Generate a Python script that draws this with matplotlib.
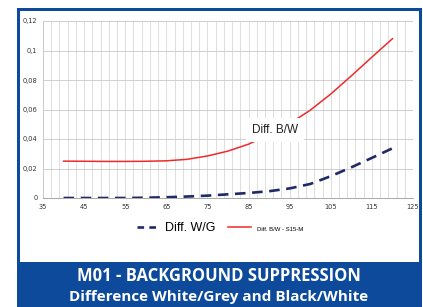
import numpy as np
import matplotlib.pyplot as plt
from matplotlib.patches import Rectangle
from matplotlib.lines import Line2D

# distance (mm) and signal differences
x_wg = [40, 45, 50, 55, 60, 65, 70, 75, 80, 85, 90, 95, 100, 105, 110, 115, 120]
diff_wg = [0.0, 0.0, 0.0, 0.0, 0.0002, 0.0005, 0.001, 0.0016, 0.0025, 0.0034, 0.0046, 0.0065,
           0.0095, 0.0148, 0.0208, 0.0272, 0.0337]

x_bw = [40, 45, 50, 55, 60, 65, 70, 75, 80, 85, 90, 95, 100, 105, 110, 115, 120]
diff_bw = [0.025, 0.0249, 0.0248, 0.0248, 0.0249, 0.0252, 0.0262, 0.0285, 0.0318, 0.0365, 0.043,
           0.0505, 0.0595, 0.0705, 0.0828, 0.0955, 0.108]

xticks = [35, 45, 55, 65, 75, 85, 95, 105, 115, 125]
yticks = [0, 0.02, 0.04, 0.06, 0.08, 0.1, 0.12]
ytick_labels = ["0", "0,02", "0,04", "0,06", "0,08", "0,1", "0,12"]

blue = "#0d4a9b"
navy = "#1f2a66"
red = "#ee2a2a"

W, H = 423, 307
fig = plt.figure(figsize=(W / 100, H / 100), dpi=100)

def px_rect(x0, y0, x1, y1, color, z):
    # rectangle in pixel coords, y measured from top
    fig.patches.append(Rectangle((x0 / W, 1 - y1 / H), (x1 - x0) / W, (y1 - y0) / H,
                                 transform=fig.transFigure, facecolor=color,
                                 edgecolor="none", zorder=z))

px_rect(17, 8, 422, 307, blue, -3)
px_rect(20, 11, 419, 262, "white", -2)

ax = fig.add_axes([43 / W, 1 - 198 / H, (413 - 43) / W, (198 - 21) / H])
ax.set_facecolor("white")
ax.set_xlim(35, 125)
ax.set_ylim(0, 0.12)
ax.set_xticks(xticks)
ax.set_yticks(yticks)
ax.set_yticklabels(ytick_labels)
ax.set_xticks(np.arange(35, 126, 2), minor=True)
ax.tick_params(axis="both", which="both", length=0, labelsize=4.8, colors="#333333", pad=4)
ax.grid(True, which="both", axis="x", color="#d9d9d9", linewidth=0.6)
ax.grid(True, which="major", axis="y", color="#c8c8c8", linewidth=0.6)
for s in ["top", "right"]:
    ax.spines[s].set_visible(False)
ax.spines["left"].set_color("#c8c8c8")
ax.spines["bottom"].set_color("#9a9a9a")
ax.spines["left"].set_linewidth(0.6)
ax.spines["bottom"].set_linewidth(0.6)

ax.plot(x_bw, diff_bw, color=red, linewidth=1.1, zorder=3)
ax.plot(x_wg, diff_wg, color=navy, linewidth=1.9, dashes=(4, 2.5), zorder=3)

ax.text(91.4, 0.0461, "Diff. B/W", fontsize=8.5, color="#222222", ha="center", va="center",
        family="Liberation Sans", zorder=4,
        bbox=dict(facecolor="white", edgecolor="none", pad=4.5))

handles = [Line2D([], [], color=navy, linewidth=1.9, dashes=(2.5, 2)),
           Line2D([], [], color=red, linewidth=1.1)]
leg = fig.legend(handles, ["Diff. W/G", "Diff. B/W - S15-M"], loc="center",
                 bbox_to_anchor=(220 / W, 1 - 228 / H), ncol=2, frameon=False,
                 prop={"family": "Liberation Sans", "size": 9}, handlelength=1.8,
                 columnspacing=1.0, handletextpad=0.5)
leg.get_texts()[1].set_fontsize(4.3)

fig.text(219 / W, 1 - 276 / H, "M01 - BACKGROUND SUPPRESSION", color="white",
         fontsize=12, fontweight="bold", ha="center", va="center", family="Open Sans")
fig.text(219 / W, 1 - 297 / H, "Difference White/Grey and Black/White", color="white",
         fontsize=11, fontweight="bold", ha="center", va="center", family="Open Sans")

fig.savefig("out.png", dpi=100)
